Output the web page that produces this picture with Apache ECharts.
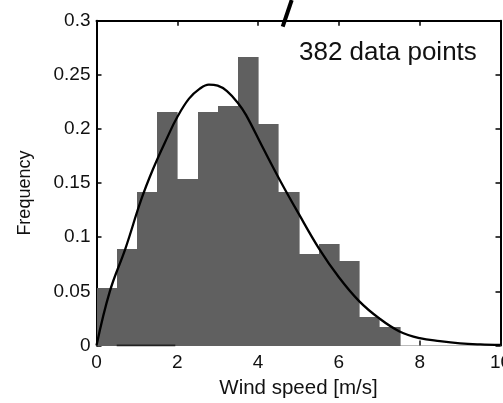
<!DOCTYPE html>
<html>
<head>
<meta charset="utf-8">
<script src="https://cdn.jsdelivr.net/npm/echarts@6/dist/echarts.min.js"></script>
<style>
html,body{margin:0;padding:0;background:#fff;}
#chart{width:503px;height:403px;}
</style>
</head>
<body>
<div id="chart"></div>
<script>
// Histogram bins (wind speed, m/s) and frequencies
const binLeft  = [0, 0.5, 1, 1.5, 2, 2.5, 3, 3.5, 4, 4.5, 5, 5.5, 6, 6.5, 7, 7.5];
const binRight = [0.5, 1, 1.5, 2, 2.5, 3, 3.5, 4, 4.5, 5, 5.5, 6, 6.5, 7, 7.5, 8];
const frequency = [0.0527, 0.089, 0.142, 0.2155, 0.1536, 0.2155, 0.2212, 0.2668, 0.2047, 0.1419, 0.0843, 0.0942, 0.0781, 0.0265, 0.0167, 0];

// Fitted distribution curve
const curveX = [0, 0.33, 0.72, 1.1, 1.4, 1.75, 2.0, 2.29, 2.55, 2.78, 3.0, 3.23, 3.5, 3.7, 4.1, 4.55, 5.0, 5.5, 6.0, 6.5, 7.0, 7.5, 8.0, 8.5, 9.0, 9.5, 10];
const curveY = [0, 0.05, 0.09, 0.134, 0.163, 0.192, 0.211, 0.228, 0.237, 0.241, 0.24, 0.235, 0.224, 0.213, 0.184, 0.152, 0.122, 0.09, 0.063, 0.041, 0.025, 0.013, 0.0068, 0.004, 0.002, 0.001, 0.0005];

// Dark baseline segment visible in the original
const baseSegX = [0.5, 1.95];
const baseSegY = [0, 0];

const xTicks = [0, 2, 4, 6, 8, 10];
const yTicks = [0, 0.05, 0.1, 0.15, 0.2, 0.25, 0.3];
const annotation = '382 data points';
const xName = 'Wind speed [m/s]';
const yName = 'Frequency';

const font = 'Arial, "Liberation Sans", Helvetica, sans-serif';
const chart = echarts.init(document.getElementById('chart'), null, {renderer: 'canvas'});

const barData = binLeft.map((l, i) => [l, binRight[i], frequency[i]]);
const curveData = curveX.map((x, i) => [x, curveY[i]]);
const segData = baseSegX.map((x, i) => [x, baseSegY[i]]);

const xMin = xTicks[0], xMax = xTicks[xTicks.length - 1];
const yMin = yTicks[0], yMax = yTicks[yTicks.length - 1];

chart.setOption({
  animation: false,
  backgroundColor: '#fff',
  grid: {left: 96.5, right: 2.5, top: 20.7, bottom: 57.5, containLabel: false, outerBoundsMode: 'none'},
  xAxis: [{
    type: 'value', position: 'bottom', min: xMin, max: xMax, interval: 2,
    name: xName, nameLocation: 'middle', nameGap: 29,
    nameTextStyle: {fontFamily: font, fontSize: 20.5, color: '#111'},
    axisLine: {show: true, onZero: false, lineStyle: {color: '#bbbbbb', width: 1}},
    axisTick: {show: true, inside: true, length: 5, lineStyle: {color: '#111', width: 1.5}},
    axisLabel: {fontFamily: font, fontSize: 19, color: '#111', margin: 8, hideOverlap: false},
    splitLine: {show: false}
  }, {
    type: 'value', position: 'top', min: xMin, max: xMax, interval: 2,
    axisLine: {show: true, onZero: false, lineStyle: {color: '#000', width: 2}},
    axisTick: {show: true, inside: true, length: 5, lineStyle: {color: '#000', width: 1.5}},
    axisLabel: {show: false},
    splitLine: {show: false}
  }],
  yAxis: [{
    type: 'value', position: 'left', min: yMin, max: yMax, interval: 0.05,
    name: yName, nameLocation: 'middle', nameGap: 62, nameRotate: 90,
    nameTextStyle: {fontFamily: font, fontSize: 18, color: '#111', padding: [0, 20, 0, 0]},
    axisLine: {show: true, onZero: false, lineStyle: {color: '#000', width: 2}},
    axisTick: {show: true, inside: true, length: 5, lineStyle: {color: '#000', width: 1.5}},
    axisLabel: {fontFamily: font, fontSize: 19, color: '#111', margin: 6},
    splitLine: {show: false}
  }, {
    type: 'value', position: 'right', min: yMin, max: yMax, interval: 0.05,
    axisLine: {show: true, onZero: false, lineStyle: {color: '#000', width: 2}},
    axisTick: {show: true, inside: true, length: 5, lineStyle: {color: '#000', width: 1.5}},
    axisLabel: {show: false},
    splitLine: {show: false}
  }],
  series: [{
    type: 'custom',
    xAxisIndex: 0, yAxisIndex: 0,
    data: barData,
    encode: {x: [0, 1], y: 2},
    renderItem: function (params, api) {
      const p0 = api.coord([api.value(0), api.value(2)]);
      const p1 = api.coord([api.value(1), 0]);
      const x0 = Math.round(p0[0]), x1 = Math.round(p1[0]);
      const y0 = Math.round(p0[1]), y1 = Math.round(p1[1]);
      return {
        type: 'rect',
        shape: {x: x0, y: y0, width: x1 - x0 + 0.6, height: y1 - y0},
        style: {fill: '#606060', stroke: null}
      };
    },
    z: 2
  }, {
    type: 'line',
    xAxisIndex: 0, yAxisIndex: 0,
    data: segData,
    symbol: 'none',
    lineStyle: {color: '#222', width: 2},
    z: 3
  }, {
    type: 'line',
    xAxisIndex: 0, yAxisIndex: 0,
    data: curveData,
    symbol: 'none',
    smooth: 0.4,
    lineStyle: {color: '#000', width: 2.3},
    z: 4
  }],
  graphic: [{
    type: 'text',
    left: 299, top: 40,
    style: {text: annotation, fontFamily: font, fontSize: 26, fill: '#111'},
    z: 10
  }, {
    type: 'line',
    shape: {x1: 291.7, y1: 0, x2: 282.7, y2: 26.7},
    style: {stroke: '#000', lineWidth: 4},
    z: 10
  }]
});
</script>
</body>
</html>
